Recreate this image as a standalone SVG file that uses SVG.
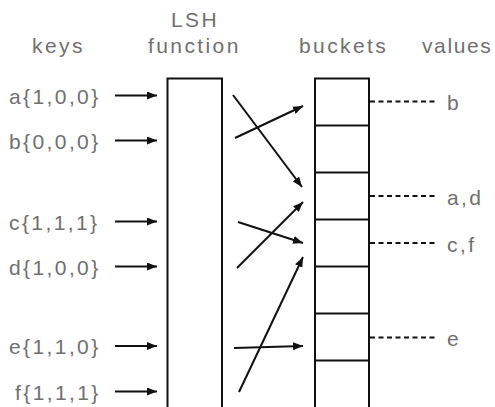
<svg xmlns="http://www.w3.org/2000/svg" width="495" height="407" viewBox="0 0 495 407">
  <defs>
    <marker id="head" markerUnits="userSpaceOnUse" markerWidth="10" markerHeight="8" refX="10" refY="4" orient="auto">
      <path d="M0,0 L10,4 L0,8 z" fill="#111"/>
    </marker>
    <style>
      .lbl { font-family: "Liberation Sans", Arial, sans-serif; font-size: 21px; fill: #707070; letter-spacing: 2.4px; }
      .box { fill: #fff; stroke: #111; stroke-width: 2; }
      .div { stroke: #111; stroke-width: 2; }
      .arr { stroke: #111; stroke-width: 2; fill: none; marker-end: url(#head); }
      .dash { stroke: #111; stroke-width: 2; stroke-dasharray: 5 3.5; }
    </style>
  </defs>

  <rect width="495" height="407" fill="#fff"/>

  <!-- column headings -->
  <g id="headings">
    <text class="lbl" x="32" y="53">keys</text>
    <text class="lbl" x="171" y="27">LSH</text>
    <text class="lbl" x="148" y="53">function</text>
    <text class="lbl" x="299" y="53">buckets</text>
    <text class="lbl" x="422" y="53" style="letter-spacing:1.6px">values</text>
  </g>

  <!-- input keys -->
  <g id="key-a"><text class="lbl" x="9" y="104">a{1,0,0}</text></g>
  <g id="key-b"><text class="lbl" x="9" y="149">b{0,0,0}</text></g>
  <g id="key-c"><text class="lbl" x="9" y="230">c{1,1,1}</text></g>
  <g id="key-d"><text class="lbl" x="9" y="275">d{1,0,0}</text></g>
  <g id="key-e"><text class="lbl" x="9" y="354">e{1,1,0}</text></g>
  <g id="key-f"><text class="lbl" x="15" y="400">f{1,1,1}</text></g>

  <!-- hash function block -->
  <g id="lsh-function">
    <rect class="box" x="167.5" y="78.5" width="54.5" height="340"/>
  </g>

  <!-- bucket table -->
  <g id="buckets">
    <rect class="box" x="315" y="78.5" width="54" height="340"/>
    <line class="div" x1="315" y1="125.5" x2="369" y2="125.5"/>
    <line class="div" x1="315" y1="172.5" x2="369" y2="172.5"/>
    <line class="div" x1="315" y1="219.5" x2="369" y2="219.5"/>
    <line class="div" x1="315" y1="266.5" x2="369" y2="266.5"/>
    <line class="div" x1="315" y1="313.5" x2="369" y2="313.5"/>
    <line class="div" x1="315" y1="360.5" x2="369" y2="360.5"/>
  </g>

  <!-- stored values -->
  <g id="value-b"><text class="lbl" x="447" y="110">b</text></g>
  <g id="value-ad"><text class="lbl" x="447" y="205">a,d</text></g>
  <g id="value-cf"><text class="lbl" x="447" y="252">c,f</text></g>
  <g id="value-e"><text class="lbl" x="447" y="346">e</text></g>

  <!-- connectors -->
  <g id="connectors">
    <line class="arr" x1="115" y1="95.5" x2="157" y2="95.5"/>
    <line class="arr" x1="115" y1="140.5" x2="157" y2="140.5"/>
    <line class="arr" x1="115" y1="221.5" x2="157" y2="221.5"/>
    <line class="arr" x1="115" y1="266.5" x2="157" y2="266.5"/>
    <line class="arr" x1="115" y1="346" x2="157" y2="346"/>
    <line class="arr" x1="115" y1="391.5" x2="157" y2="391.5"/>

    <line class="arr" x1="233" y1="95" x2="302" y2="187"/>
    <line class="arr" x1="235" y1="138" x2="303" y2="106"/>
    <line class="arr" x1="238" y1="222" x2="303" y2="243"/>
    <line class="arr" x1="237" y1="268" x2="303" y2="202"/>
    <line class="arr" x1="239" y1="392" x2="303" y2="257"/>
    <line class="arr" x1="234" y1="348" x2="303" y2="346"/>

    <line class="dash" x1="370" y1="101.5" x2="438" y2="101.5"/>
    <line class="dash" x1="370" y1="196" x2="438" y2="196"/>
    <line class="dash" x1="370" y1="243" x2="438" y2="243"/>
    <line class="dash" x1="370" y1="337.5" x2="438" y2="337.5"/>
  </g>
</svg>
